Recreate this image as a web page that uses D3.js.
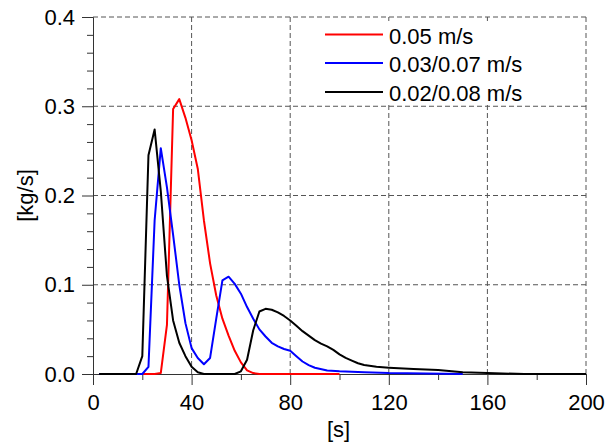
<!DOCTYPE html>
<html>
<head>
<meta charset="utf-8">
<script src="https://cdn.jsdelivr.net/npm/d3@7"></script>
<style>
  html, body { margin: 0; padding: 0; background: #fff; }
  svg { display: block; font-family: "Liberation Sans", Arial, sans-serif; }
</style>
</head>
<body>
<svg id="chart" width="606" height="443"></svg>
<script>
// Mass flow rate over time for three inflow velocity settings
const seriesNames = ["0.05 m/s", "0.03/0.07 m/s", "0.02/0.08 m/s"];
const seriesColors = ["#ff0000", "#0000ff", "#000000"];

const timeA = [2.5, 25, 27.5, 30, 32.5, 35, 37.5, 40, 42.5, 45, 47.5, 50, 52.5, 55, 57.5, 60, 62.5, 65, 67.5, 100];
const flowA = [0, 0, 0.001, 0.055, 0.297, 0.308, 0.287, 0.262, 0.23, 0.172, 0.124, 0.088, 0.062, 0.043, 0.026, 0.013, 0.004, 0.001, 0, 0];

const timeB = [2.5, 20, 22.5, 25, 27.5, 30, 32.5, 35, 37.5, 40, 42.5, 45, 47.5, 50, 52.5, 55, 57.5, 60, 62.5, 65, 67.5, 70, 72.5, 75, 77.5, 80, 82.5, 85, 87.5, 90, 95, 100, 110, 120, 150];
const flowB = [0, 0, 0.008, 0.172, 0.253, 0.209, 0.156, 0.1, 0.057, 0.029, 0.018, 0.011, 0.018, 0.062, 0.105, 0.109, 0.101, 0.09, 0.075, 0.062, 0.05, 0.042, 0.035, 0.031, 0.028, 0.026, 0.02, 0.014, 0.01, 0.007, 0.004, 0.003, 0.002, 0.001, 0];

const timeC = [2.5, 17.5, 20, 22.5, 25, 27.5, 30, 32.5, 35, 37.5, 40, 42.5, 45, 57.5, 60, 62.5, 65, 67.5, 70, 72.5, 75, 77.5, 80, 82.5, 85, 87.5, 90, 92.5, 95, 97.5, 100, 102.5, 105, 107.5, 110, 115, 120, 130, 140, 150, 160, 175, 200];
const flowC = [0, 0, 0.02, 0.245, 0.274, 0.205, 0.11, 0.06, 0.035, 0.02, 0.008, 0.002, 0, 0, 0.003, 0.016, 0.049, 0.07, 0.073, 0.072, 0.069, 0.065, 0.06, 0.054, 0.048, 0.043, 0.038, 0.034, 0.031, 0.027, 0.022, 0.018, 0.015, 0.012, 0.01, 0.008, 0.007, 0.0056, 0.0045, 0.002, 0.001, 0, 0];

const xTicks = [0, 40, 80, 120, 160, 200];
const xMinorTicks = [20, 60, 100, 140, 180];
const yTicks = [0.0, 0.1, 0.2, 0.3, 0.4];
const yMinorTicks = [0.02, 0.04, 0.06, 0.08, 0.12, 0.14, 0.16, 0.18, 0.22, 0.24, 0.26, 0.28, 0.32, 0.34, 0.36, 0.38];

const svg = d3.select("#chart");
const plotLeft = 93, plotRight = 586, plotTop = 17, plotBottom = 374;
const fontSize = 22;

const x = d3.scaleLinear().domain([0, 200]).range([plotLeft, plotRight]);
const y = d3.scaleLinear().domain([0, 0.4]).range([plotBottom, plotTop]);

// dashed grid
const grid = svg.append("g").attr("stroke", "#555").attr("stroke-width", 1)
  .attr("stroke-dasharray", "5,3").attr("fill", "none");
xTicks.filter(d => d > 0).forEach(d => {
  grid.append("line").attr("x1", x(d)).attr("x2", x(d)).attr("y1", plotTop).attr("y2", plotBottom);
});
yTicks.filter(d => d > 0).forEach(d => {
  grid.append("line").attr("x1", plotLeft).attr("x2", plotRight).attr("y1", y(d)).attr("y2", y(d));
});

// legend backdrop hides the grid behind it
svg.append("rect").attr("x", 311).attr("y", 21).attr("width", 265).attr("height", 83).attr("fill", "#fff");

// x axis
svg.append("g").attr("transform", `translate(0,${plotBottom})`)
  .call(d3.axisBottom(x).tickValues(xTicks).tickSize(11).tickPadding(9).tickFormat(d3.format("d")));
svg.append("g").attr("transform", `translate(0,${plotBottom})`)
  .call(d3.axisBottom(x).tickValues(xMinorTicks).tickSize(6).tickFormat(""))
  .select(".domain").remove();

// y axis
svg.append("g").attr("transform", `translate(${plotLeft},0)`)
  .call(d3.axisLeft(y).tickValues(yTicks).tickSize(11).tickPadding(7).tickFormat(d3.format(".1f")));
svg.append("g").attr("transform", `translate(${plotLeft},0)`)
  .call(d3.axisLeft(y).tickValues(yMinorTicks).tickSize(6).tickFormat(""))
  .select(".domain").remove();

svg.selectAll(".domain").attr("stroke", "#333");
svg.selectAll(".tick line").attr("stroke", "#333");
svg.selectAll(".tick text").attr("font-size", fontSize).attr("fill", "#000")
  .attr("font-family", "'Liberation Sans', Arial, sans-serif");

// axis titles
svg.append("text").attr("x", (plotLeft + plotRight) / 2 - 1).attr("y", 437).attr("text-anchor", "middle")
  .attr("font-size", fontSize).text("[s]");
svg.append("text").attr("transform", `translate(33,${(plotTop + plotBottom) / 2}) rotate(-90)`)
  .attr("text-anchor", "middle").attr("font-size", fontSize).text("[kg/s]");

// series lines
const line = d3.line().x(d => x(d[0])).y(d => y(d[1]));
const series = [
  d3.zip(timeA, flowA),
  d3.zip(timeB, flowB),
  d3.zip(timeC, flowC)
];
series.forEach((pts, i) => {
  svg.append("path").datum(pts).attr("d", line)
    .attr("fill", "none").attr("stroke", seriesColors[i]).attr("stroke-width", 2)
    .attr("stroke-linejoin", "round");
});

// legend
const legendRows = [34.5, 63, 92];
seriesNames.forEach((name, i) => {
  svg.append("line").attr("x1", 325).attr("x2", 383).attr("y1", legendRows[i]).attr("y2", legendRows[i])
    .attr("stroke", seriesColors[i]).attr("stroke-width", 2);
  svg.append("text").attr("x", 389).attr("y", legendRows[i] + 1.5).attr("dy", "0.35em")
    .attr("font-size", fontSize).text(name);
});
</script>
</body>
</html>
